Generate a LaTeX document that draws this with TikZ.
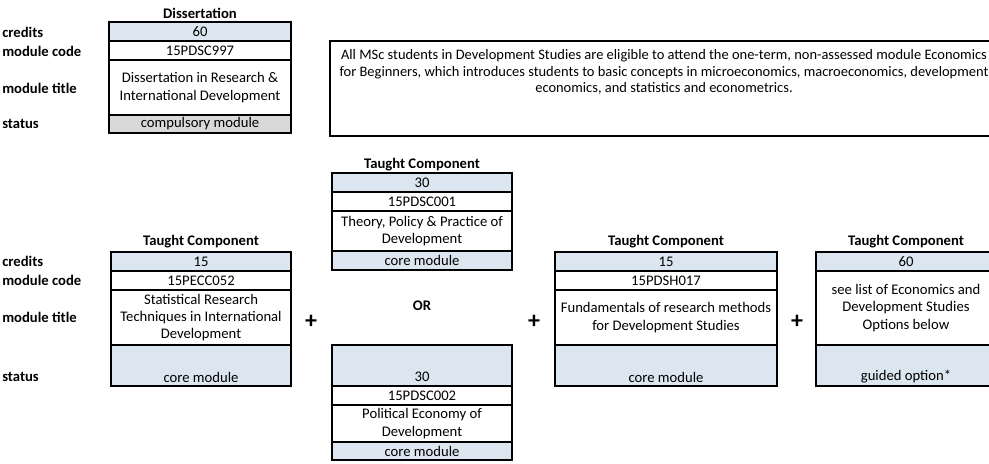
\documentclass[tikz,border=0pt]{standalone}
\usepackage{fontspec}
\setmainfont{Carlito}
\usetikzlibrary{positioning}
\definecolor{paleblue}{RGB}{220,230,241}
\definecolor{lightgrey}{RGB}{217,217,217}

\begin{document}
\begin{tikzpicture}[x=0.75pt, y=-0.75pt,
    cell/.style={draw, line width=1.1pt, inner sep=0pt, outer sep=0pt, anchor=north, align=center, font=\fontsize{11}{13}\selectfont},
    wh/.style 2 args={minimum width=#1*0.75pt, minimum height=#2*0.75pt},
    txt/.style={inner sep=0pt, align=center, font=\fontsize{11}{12.2}\selectfont},
    head/.style={inner sep=0pt, font=\bfseries\fontsize{11}{13}\selectfont},
    rowname/.style={anchor=west, inner sep=0pt, font=\bfseries\fontsize{11}{13}\selectfont},
    plus/.style={inner sep=0pt, font=\bfseries\fontsize{18}{18}\selectfont},
    outerline/.style={line width=2pt}
  ]
    \clip (0,0) rectangle (989,464);
    % dissertation
    \node[rowname] (dl1) at (2,32) {credits};
    \node[rowname] (dl2) at (2,51) {module code};
    \node[rowname] (dl3) at (2,88) {module title};
    \node[rowname] (dl4) at (2,124) {status};
    \node[head] (dhead) at (200,13) {Dissertation};
    \node[cell, wh={182}{19}, fill=paleblue] (dcred) at (200,22) {60};
    \node[cell, wh={182}{19}] (dcode) at (200,41) {15PDSC997};
    \node[cell, wh={182}{55}] (dtitle) at (200,60) {Dissertation in Research \&\\International Development};
    \node[cell, wh={182}{18}, fill=lightgrey] (dstat) at (200,115) {compulsory module};
    \draw[outerline] (dcred.north west) rectangle (dstat.south east);

    \node[draw, line width=1.3pt, inner sep=0pt, anchor=north west, minimum width=674*0.75pt, minimum height=95*0.75pt] (info) at (329,40) {};
    \node[txt, font=\fontsize{10.85}{12.2}\selectfont] (infotext) at (664,72) {All MSc students in Development Studies are eligible to attend the one-term, non-assessed module Economics\\for Beginners, which introduces students to basic concepts in microeconomics, macroeconomics, development\\economics, and statistics and econometrics.};

    % taught components
    \node[rowname] (tl1) at (2,261) {credits};
    \node[rowname] (tl2) at (2,280) {module code};
    \node[rowname] (tl3) at (2,317) {module title};
    \node[rowname] (tl4) at (2,377) {status};

    \node[head] (lhead) at (201,242) {Taught Component};
    \node[cell, wh={180}{19}, fill=paleblue] (lcred) at (201,252) {15};
    \node[cell, wh={180}{19}] (lcode) at (201,271) {15PECC052};
    \node[cell, wh={180}{55}] (ltitle) at (201,290) {Statistical Research\\Techniques in International\\Development};
    \node[cell, wh={180}{41}, fill=paleblue] (lstat) at (201,345) {};
    \node[txt] (lstattext) at (201,377) {core module};
    \draw[outerline] (lcred.north west) rectangle (lstat.south east);

    \node[head] (mhead) at (422,165) {Taught Component};
    \node[cell, wh={180}{19}, fill=paleblue] (mcred) at (422,173) {30};
    \node[cell, wh={180}{19}] (mcode) at (422,192) {15PDSC001};
    \node[cell, wh={180}{40}] (mtitle) at (422,211) {Theory, Policy \& Practice of\\Development};
    \node[cell, wh={180}{19}, fill=paleblue] (mstat) at (422,251) {core module};
    \draw[outerline] (mcred.north west) rectangle (mstat.south east);

    \node[head] (or) at (422,306) {OR};

    \node[cell, wh={180}{41}, fill=paleblue] (ncred) at (422,345) {};
    \node[txt] (ncredtext) at (422,377) {30};
    \node[cell, wh={180}{19}] (ncode) at (422,386) {15PDSC002};
    \node[cell, wh={180}{37}] (ntitle) at (422,405) {Political Economy of\\Development};
    \node[cell, wh={180}{18}, fill=paleblue] (nstat) at (422,442) {core module};
    \draw[outerline] (ncred.north west) rectangle (nstat.south east);

    \node[head] (fhead) at (666,242) {Taught Component};
    \node[cell, wh={222}{19}, fill=paleblue] (fcred) at (666,252) {15};
    \node[cell, wh={222}{19}] (fcode) at (666,271) {15PDSH017};
    \node[cell, wh={222}{55}] (ftitle) at (666,290) {Fundamentals of research methods\\for Development Studies};
    \node[cell, wh={222}{41}, fill=paleblue] (fstat) at (666,345) {};
    \node[txt] (fstattext) at (666,377) {core module};
    \draw[outerline] (fcred.north west) rectangle (fstat.south east);

    \node[head] (rhead) at (906,242) {Taught Component};
    \node[cell, outerline, wh={180}{19}, fill=paleblue] (rcred) at (906,252) {60};
    \node[cell, outerline, wh={180}{74}] (rtitle) at (906,271) {see list of Economics and\\Development Studies\\Options below};
    \node[cell, outerline, wh={180}{41}, fill=paleblue] (rstat) at (906,345) {};
    \node[txt] (rstattext) at (906,377) {guided option*};

    \node[plus] (p1) at (311,322) {+};
    \node[plus] (p2) at (534,322) {+};
    \node[plus] (p3) at (797,322) {+};
  \end{tikzpicture}
\end{document}
